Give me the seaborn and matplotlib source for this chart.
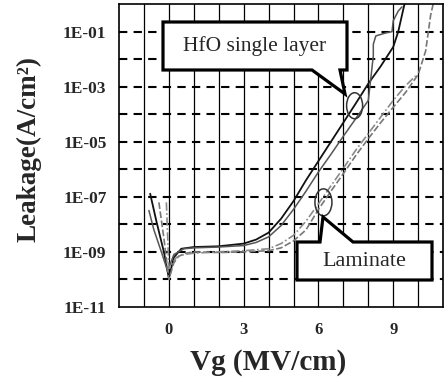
import numpy as np
import pandas as pd
import matplotlib
matplotlib.use("Agg")
import matplotlib.pyplot as plt
import seaborn as sns
from matplotlib.patches import Ellipse, Polygon
from matplotlib.ticker import FixedLocator, FixedFormatter

# Leakage vs gate field
vg_hfo1 = [-0.75, -0.5, -0.2, 0, 0.2, 0.5, 1, 2, 3, 3.5, 4, 4.5, 5, 5.5, 6, 6.5, 7, 7.5, 8, 8.5, 9, 9.2, 9.4, 9.45]
j_hfo1 = [1.3e-7, 1.3e-8, 1e-9, 1.1e-10, 6.3e-10, 1.3e-9, 1.5e-9, 1.6e-9, 2e-9, 2.8e-9, 5e-9, 1.6e-8, 7e-8,
          4e-7, 2e-6, 1e-5, 5e-5, 2.5e-4, 1.3e-3, 5.6e-3, 2.8e-2, 1e-1, 6.3e-1, 1.0]

vg_hfo2 = [-0.8, -0.6, -0.3, -0.05, 0.2, 0.6, 1, 2, 3, 3.5, 4, 4.5, 5, 5.5, 6, 6.5, 7, 7.5, 8,
           8.2, 8.2, 8.3, 8.7, 8.95, 9.0, 9.2, 9.35]
j_hfo2 = [3.2e-8, 6.3e-9, 1e-9, 2e-10, 8e-10, 1.3e-9, 1.4e-9, 1.5e-9, 1.7e-9, 2.2e-9, 3.5e-9, 9e-9, 3.5e-8,
          1.6e-7, 8e-7, 3.5e-6, 1.6e-5, 7e-5, 3.2e-4,
          1.3e-2, 3.5e-2, 7e-2, 9e-2, 1e-1, 2.5e-1, 5.6e-1, 8e-1]

vg_lam1 = [-0.4, -0.2, 0, 0.2, 0.4, 0.7, 1, 2, 3, 4, 4.5, 5, 5.5, 6, 6.5, 7, 7.5, 8, 8.5, 9, 9.5, 10, 10.3, 10.5, 10.6]
j_lam1 = [6.3e-8, 3.2e-9, 1e-10, 4e-10, 7e-10, 9e-10, 1e-9, 9.5e-10, 1e-9, 1.1e-9, 1.4e-9, 2.5e-9, 6.3e-9,
          3.5e-8, 1.6e-7, 7e-7, 3.2e-6, 1.3e-5, 5e-5, 1.8e-4, 6.3e-4, 2.8e-3, 2e-2, 4e-1, 1.0]

vg_lam2 = [-0.1, 0, 0.15, 0.3, 0.6, 1, 2, 3, 4, 4.5, 5, 5.5, 6, 6.5, 7, 7.5, 8, 8.5, 9, 9.5, 9.9]
j_lam2 = [6.3e-8, 2.5e-10, 4e-10, 6.3e-10, 8e-10, 9e-10, 1e-9, 1.1e-9, 1.3e-9, 2e-9, 4e-9, 1.3e-8, 5.6e-8,
          2.5e-7, 1.1e-6, 5e-6, 2e-5, 8e-5, 3.2e-4, 1.1e-3, 2.5e-3]

x_ticks = [0, 3, 6, 9]
y_ticks = [1e-11, 1e-9, 1e-7, 1e-5, 1e-3, 1e-1]
y_ticklabels = ["1E-11", "1E-09", "1E-07", "1E-05", "1E-03", "1E-01"]

sns.set_style("white")
plt.rcParams["font.family"] = ["Liberation Serif", "DejaVu Serif"]

W, H = 444, 378
fig = plt.figure(figsize=(W / 100, H / 100), dpi=100)
ax = fig.add_axes([0.268, 0.188, 0.730, 0.801])

curves = [
    (vg_hfo1, j_hfo1, "#111111", "-", 1.3),
    (vg_hfo2, j_hfo2, "#555555", "-", 1.1),
    (vg_lam1, j_lam1, "#777777", (0, (4, 1.5)), 1.2),
    (vg_lam2, j_lam2, "#8a8a8a", (0, (5, 1.5, 1, 1.5)), 1.2),
]
for vg, j, col, ls, lw in curves:
    df = pd.DataFrame({"Vg": vg, "J": j})
    sns.lineplot(data=df, x="Vg", y="J", ax=ax, color=col, linestyle=ls, lw=lw,
                 sort=False, estimator=None)

ax.set_yscale("log")
ax.set_xlim(-2, 11)
ax.set_ylim(1e-11, 1)

# grid: solid verticals every 1 MV/cm, dashed horizontals every decade
for xv in np.arange(-1, 11):
    ax.axvline(xv, color="black", lw=0.9, zorder=0)
for d in range(-10, 0):
    ax.axhline(10.0 ** d, color="black", lw=1.5, ls=(0, (4, 3)), zorder=0)

ax.xaxis.set_major_locator(FixedLocator(x_ticks))
ax.yaxis.set_major_locator(FixedLocator(y_ticks))
ax.yaxis.set_major_formatter(FixedFormatter(y_ticklabels))
ax.yaxis.set_minor_locator(FixedLocator([]))
ax.tick_params(axis="both", length=0)
ax.tick_params(axis="x", pad=11, labelsize=12)
ax.tick_params(axis="y", pad=9, labelsize=12.5)
for lab in ax.get_xticklabels() + ax.get_yticklabels():
    lab.set_fontweight("bold")

for s in ax.spines.values():
    s.set_color("black")
    s.set_linewidth(1.2)

ax.set_xlabel("Vg (MV/cm)", fontsize=21, fontweight="bold")
ax.set_ylabel("Leakage(A/cm²)", fontsize=19.5, fontweight="bold")
ax.xaxis.set_label_coords(0.461, -0.138)
ax.yaxis.set_label_coords(-0.24, 0.52)


def fpt(x, y):
    # pixel position (from top-left) -> figure fraction
    return (x / W, 1 - y / H)


# callout boxes with their pointers
hfo_box = [(163, 22), (347, 22), (347, 70), (340, 70), (345, 94), (312, 70), (163, 70)]
lam_box = [(297, 242), (320, 242), (323, 217), (353, 242), (432, 242), (432, 280), (297, 280)]
for pts in (hfo_box, lam_box):
    fig.patches.append(Polygon([fpt(*p) for p in pts], closed=True, transform=fig.transFigure,
                               fc="white", ec="black", lw=2.3, joinstyle="miter", zorder=6))
fig.text(*fpt(255, 46), "HfO single layer", ha="center", va="center", fontsize=15.5, zorder=7)
fig.text(*fpt(364.5, 262), "Laminate", ha="center", va="center", fontsize=16, zorder=7)

# circles marking the curve groups
def axes_pt(x, y):
    return ax.transAxes.inverted().transform(ax.transData.transform((x, y)))

ax.add_patch(Ellipse(axes_pt(7.45, 10 ** -3.69), 16 / 324, 26 / 303, transform=ax.transAxes,
                     fill=False, ec="#333333", lw=1.1, zorder=5))
ax.add_patch(Ellipse(axes_pt(6.2, 10 ** -7.2), 17 / 324, 27 / 303, transform=ax.transAxes,
                     fill=False, ec="#333333", lw=1.1, zorder=5))

fig.savefig("out.png", dpi=100)
